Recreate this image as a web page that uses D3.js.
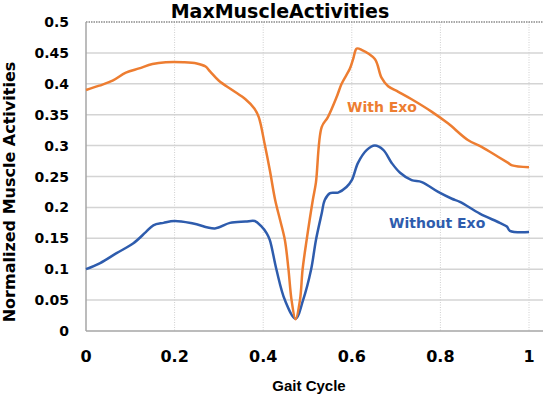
<!DOCTYPE html>
<html>
<head>
<meta charset="utf-8">
<script src="https://cdn.jsdelivr.net/npm/d3@7"></script>
<style>
  body { margin: 0; background: white; }
  svg { display: block; }
</style>
</head>
<body>
<svg id="chart" width="550" height="399"></svg>
<script>
// gait cycle positions and muscle activity
var withExoX = [0, 0.03, 0.06, 0.09, 0.12, 0.15, 0.18, 0.22, 0.25, 0.27, 0.28, 0.30, 0.33, 0.36, 0.38, 0.39,
    0.404, 0.415, 0.427, 0.438, 0.449, 0.457, 0.464, 0.473, 0.483, 0.489, 0.498, 0.512, 0.519, 0.532, 0.546,
    0.566, 0.577, 0.596, 0.603, 0.611, 0.622, 0.652, 0.667, 0.682, 0.705, 0.735, 0.78, 0.817, 0.862, 0.893,
    0.93, 0.953, 0.962, 1.0];
var withExoY = [0.39, 0.397, 0.405, 0.418, 0.425, 0.432, 0.435, 0.435, 0.433, 0.428, 0.42, 0.405, 0.39, 0.375, 0.36, 0.346,
    0.30, 0.26, 0.212, 0.18, 0.147, 0.10, 0.05, 0.019, 0.05, 0.10, 0.147, 0.212, 0.24, 0.33, 0.346,
    0.379, 0.40, 0.425, 0.44, 0.457, 0.455, 0.44, 0.41, 0.396, 0.387, 0.375, 0.355, 0.336, 0.309, 0.298,
    0.282, 0.272, 0.268, 0.265];

var withoutExoX = [0, 0.032, 0.069, 0.107, 0.135, 0.152, 0.175, 0.2, 0.242, 0.291, 0.325, 0.36, 0.381, 0.395,
    0.408, 0.415, 0.43, 0.449, 0.473, 0.49, 0.508, 0.519, 0.532, 0.539, 0.551, 0.569, 0.588, 0.6, 0.614,
    0.634, 0.652, 0.671, 0.69, 0.709, 0.735, 0.758, 0.795, 0.826, 0.844, 0.889, 0.934, 0.95, 0.957, 1.0];
var withoutExoY = [0.10, 0.11, 0.126, 0.142, 0.16, 0.171, 0.175, 0.178, 0.174, 0.166, 0.175, 0.177, 0.178, 0.17,
    0.158, 0.147, 0.099, 0.05, 0.02, 0.05, 0.099, 0.147, 0.19, 0.212, 0.223, 0.224, 0.233, 0.244, 0.272,
    0.293, 0.30, 0.293, 0.272, 0.256, 0.244, 0.241, 0.225, 0.214, 0.209, 0.19, 0.175, 0.169, 0.162, 0.16];

var xTicks = [0, 0.2, 0.4, 0.6, 0.8, 1];
var xTickLabels = ["0", "0.2", "0.4", "0.6", "0.8", "1"];
var yTicks = [0, 0.05, 0.1, 0.15, 0.2, 0.25, 0.3, 0.35, 0.4, 0.45, 0.5];
var yTickLabels = ["0", "0.05", "0.1", "0.15", "0.2", "0.25", "0.3", "0.35", "0.4", "0.45", "0.5"];

var orange = "#ED7D31", blue = "#2E5CAD";
var bold = "'DejaVu Sans', sans-serif";

var svg = d3.select("#chart");
var plotLeft = 86, plotRight = 529, plotTop = 22, plotBottom = 331, plotEnd = 543;

var x = d3.scaleLinear().domain([0, 1]).range([plotLeft, plotRight]);
var y = d3.scaleLinear().domain([0, 0.5]).range([plotBottom, plotTop]);

// horizontal grid
svg.append("g")
    .selectAll("line")
    .data(yTicks.filter(function(d){return d > 0 && d < 0.5;}))
    .enter()
    .append("line")
        .attr("x1", plotLeft).attr("x2", plotEnd)
        .attr("y1", function(d){return y(d);})
        .attr("y2", function(d){return y(d);})
        .attr("stroke", "#d4d4d4")
        .attr("stroke-width", 1.5);

// vertical dotted grid
svg.append("g")
    .selectAll("line")
    .data(xTicks.filter(function(d){return d > 0;}))
    .enter()
    .append("line")
        .attr("x1", function(d){return x(d);})
        .attr("x2", function(d){return x(d);})
        .attr("y1", plotTop).attr("y2", plotBottom)
        .attr("stroke", "#cfcfcf")
        .attr("stroke-width", 1)
        .attr("stroke-dasharray", "1,1.5");

// top border, dotted and darker
svg.append("line")
    .attr("x1", plotLeft).attr("x2", plotEnd)
    .attr("y1", plotTop).attr("y2", plotTop)
    .attr("stroke", "#8a8a8a")
    .attr("stroke-width", 1.5)
    .attr("stroke-dasharray", "1.5,1");

// axis lines
svg.append("line")
    .attr("x1", plotLeft).attr("x2", plotLeft)
    .attr("y1", plotTop).attr("y2", plotBottom)
    .attr("stroke", "#a6a6a6").attr("stroke-width", 1.5);
svg.append("line")
    .attr("x1", plotLeft).attr("x2", plotEnd)
    .attr("y1", plotBottom).attr("y2", plotBottom)
    .attr("stroke", "#a6a6a6").attr("stroke-width", 1.5);

// tick labels
svg.append("g")
    .selectAll("text")
    .data(yTicks)
    .enter()
    .append("text")
        .attr("x", 69)
        .attr("y", function(d){return y(d);})
        .attr("dy", "0.36em")
        .attr("text-anchor", "end")
        .style("font-family", bold)
        .style("font-weight", "bold")
        .style("font-size", "14px")
        .text(function(d, i){return yTickLabels[i];});

svg.append("g")
    .selectAll("text")
    .data(xTicks)
    .enter()
    .append("text")
        .attr("x", function(d){return x(d);})
        .attr("y", 362)
        .attr("text-anchor", "middle")
        .style("font-family", bold)
        .style("font-weight", "bold")
        .style("font-size", "16px")
        .text(function(d, i){return xTickLabels[i];});

// lines
function series(xs, ys){
    return xs.map(function(d, i){return [d, ys[i]];});
}
var line = d3.line()
    .x(function(d){return x(d[0]);})
    .y(function(d){return y(d[1]);})
    .curve(d3.curveCatmullRom.alpha(0.5));

svg.append("path")
    .datum(series(withoutExoX, withoutExoY))
    .attr("d", line)
    .attr("fill", "none")
    .attr("stroke", blue)
    .attr("stroke-width", 2.5)
    .attr("stroke-linejoin", "round");
svg.append("path")
    .datum(series(withExoX, withExoY))
    .attr("d", line)
    .attr("fill", "none")
    .attr("stroke", orange)
    .attr("stroke-width", 2.5)
    .attr("stroke-linejoin", "round");

// series labels
svg.append("text")
    .attr("x", 347).attr("y", 111.5)
    .attr("fill", orange)
    .style("font-family", bold).style("font-weight", "bold").style("font-size", "14px")
    .text("With Exo");
svg.append("text")
    .attr("x", 389).attr("y", 228)
    .attr("fill", blue)
    .style("font-family", bold).style("font-weight", "bold").style("font-size", "14px")
    .text("Without Exo");

// titles
svg.append("text")
    .attr("x", 280).attr("y", 18)
    .attr("text-anchor", "middle")
    .style("font-family", bold).style("font-weight", "bold").style("font-size", "19px")
    .text("MaxMuscleActivities");

svg.append("text")
    .attr("x", 309).attr("y", 391)
    .attr("text-anchor", "middle")
    .style("font-family", "'Liberation Sans', Arial, sans-serif").style("font-weight", "bold").style("font-size", "15px")
    .text("Gait Cycle");

svg.append("text")
    .attr("transform", "translate(15,192) rotate(-90)")
    .attr("text-anchor", "middle")
    .style("font-family", bold).style("font-weight", "bold").style("font-size", "16px")
    .text("Normalized Muscle Activities");
</script>
</body>
</html>
